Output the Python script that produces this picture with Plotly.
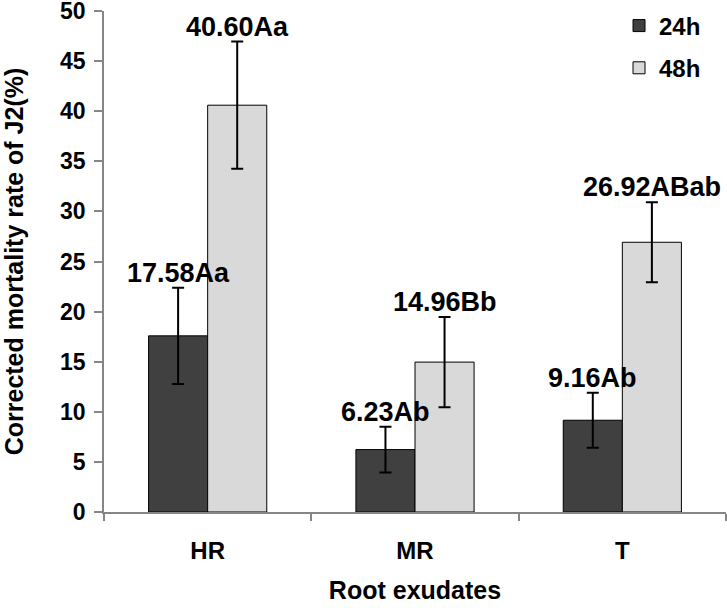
import plotly.graph_objects as go

categories = ["HR", "MR", "T"]
series_names = ["24h", "48h"]
values_24h = [17.58, 6.23, 9.16]
values_48h = [40.60, 14.96, 26.92]
errors_24h = [4.8, 2.28, 2.75]
errors_48h = [6.35, 4.5, 4.0]
labels_24h = ["17.58Aa", "6.23Ab", "9.16Ab"]
labels_48h = ["40.60Aa", "14.96Bb", "26.92ABab"]
y_ticks = [0, 5, 10, 15, 20, 25, 30, 35, 40, 45, 50]

FONT = "Liberation Sans, Arial, sans-serif"
AXIS_GRAY = "#868686"
DARK = "#404040"
LIGHT = "#d9d9d9"

W, H = 727, 608
M_L, M_R, M_T, M_B = 104, 1, 11, 96
BARGAP = 0.43

fig = go.Figure()
for name, vals, errs, color in [
    (series_names[0], values_24h, errors_24h, DARK),
    (series_names[1], values_48h, errors_48h, LIGHT),
]:
    fig.add_trace(go.Bar(
        x=categories, y=vals, name=name, legendgroup=name,
        marker=dict(color=color, line=dict(color="black", width=1)),
        error_y=dict(type="data", array=errs, visible=True,
                     color="black", thickness=2, width=6),
    ))

# label annotations above the error bars
plot_w = W - M_L - M_R
cat_px = plot_w / len(categories)
bar_px = cat_px * (1 - BARGAP) / 2
for vals, errs, labs, sign in [
    (values_24h, errors_24h, labels_24h, -1),
    (values_48h, errors_48h, labels_48h, 1),
]:
    for c, v, e, t in zip(categories, vals, errs, labs):
        fig.add_annotation(
            x=c, y=v + e, xref="x", yref="y", text=t,
            showarrow=False, xanchor="center", yanchor="bottom",
            xshift=sign * bar_px / 2, yshift=-2,
            font=dict(family=FONT, size=27, color="black", weight="bold"),
        )

fig.update_layout(
    width=W, height=H,
    margin=dict(l=M_L, r=M_R, t=M_T, b=M_B, pad=0, autoexpand=False),
    paper_bgcolor="white", plot_bgcolor="white",
    barmode="group", bargap=BARGAP, bargroupgap=0,
    showlegend=True,
    legend=dict(x=0.828, y=1.015, xanchor="left", yanchor="top",
                font=dict(family=FONT, size=24, color="black", weight="bold"),
                bgcolor="rgba(0,0,0,0)", tracegroupgap=8,
                traceorder="grouped", itemwidth=30),
    font=dict(family=FONT, color="black"),
    xaxis=dict(
        automargin=False,
        showline=True, linecolor=AXIS_GRAY, linewidth=1.5,
        ticks="outside", tickson="boundaries", ticklen=7,
        tickcolor=AXIS_GRAY, tickwidth=1.5, ticklabelstandoff=16,
        tickfont=dict(family=FONT, size=24, color="black", weight="bold"),
        title=dict(text="Root exudates", standoff=19,
                   font=dict(family=FONT, size=25, color="black", weight="bold")),
        showgrid=False, zeroline=False,
    ),
    yaxis=dict(
        automargin=False,
        range=[0, 50], tickvals=y_ticks,
        showline=True, linecolor=AXIS_GRAY, linewidth=1.5,
        ticks="outside", ticklen=8, tickcolor=AXIS_GRAY, tickwidth=1.5,
        ticklabelstandoff=4, ticklabeloverflow="allow",
        tickfont=dict(family=FONT, size=23, color="black", weight="bold"),
        title=dict(text="Corrected mortality rate of J2(%)", standoff=35,
                   font=dict(family=FONT, size=25, color="black", weight="bold")),
        showgrid=False, zeroline=False,
    ),
)

fig.write_html("out.html", config={"displayModeBar": False},
               post_script="document.body.style.margin='0px';")
